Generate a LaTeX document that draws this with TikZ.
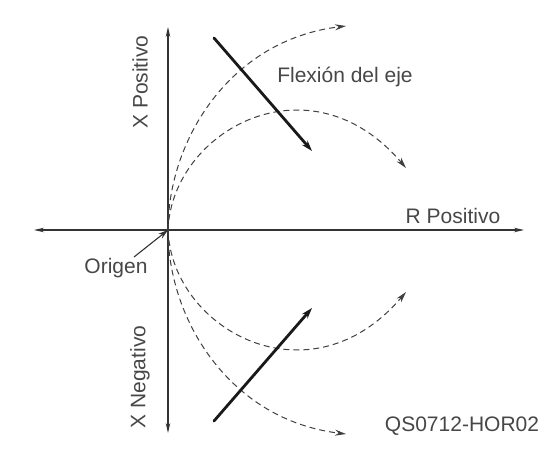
\documentclass[tikz,border=0pt]{standalone}
\usepackage{fontspec}
\setmainfont{Liberation Sans}
\usetikzlibrary{arrows.meta}
\begin{document}
\begin{tikzpicture}[x=1pt,y=-1pt,
  axisarrow/.style={line width=1.1pt,color=black!80,-{Stealth[length=10pt,width=4.5pt]}},
  flexarrow/.style={line width=2.8pt,color=black!90,line cap=round,-{Stealth[length=11pt,width=7pt]}},
  dashpath/.style={dash pattern=on 6pt off 4pt,line width=1pt,color=black!75,-{Stealth[length=11pt,width=6pt]}},
  lbl/.style={font=\fontsize{21}{23}\selectfont,text=black!72,inner sep=0pt}]
\useasboundingbox (0,0) rectangle (544,466);
\coordinate (O) at (168,230);
\coordinate (L) at (34,230);
\coordinate (R) at (524,230);
\coordinate (T) at (168,27);
\coordinate (B) at (168,433);
\draw[axisarrow] (O) -- (R);
\draw[axisarrow] (O) -- (L);
\draw[axisarrow] (O) -- (T);
\draw[axisarrow] (O) -- (B);
% dashed paths
\coordinate (e1) at (346,26);
\coordinate (e2) at (406,168);
\coordinate (e3) at (406,292);
\coordinate (e4) at (346,434);
\draw[dashpath] (O) .. controls (168,140) and (230,40) .. (e1);
\draw[dashpath] (O) .. controls (172,130) and (310,55) .. (e2);
\draw[dashpath] (O) .. controls (172,330) and (310,405) .. (e3);
\draw[dashpath] (O) .. controls (168,320) and (230,420) .. (e4);
% bending arrows
\coordinate (a1) at (214,38);
\coordinate (a2) at (312,151);
\coordinate (b1) at (214,421);
\coordinate (b2) at (312,308);
\draw[flexarrow] (a1) -- (a2);
\draw[flexarrow] (b1) -- (b2);
% labels
\node[lbl,rotate=90] (xp) at (140,82) {X Positivo};
\node[lbl,rotate=90] (xn) at (140,377) {X Negativo};
\node[lbl] (flex) at (345,77) {Flexión del eje};
\node[lbl] (rp) at (453,216) {R Positivo};
\node[lbl] (org) at (116,268) {Origen};
\node[lbl] (qs) at (462,426) {QS0712-HOR02};
\coordinate (oa) at (134,257);
\draw[line width=1.1pt,color=black!80,-{Stealth[length=10pt,width=6pt]}] (oa) -- (O);
\end{tikzpicture}
\end{document}
